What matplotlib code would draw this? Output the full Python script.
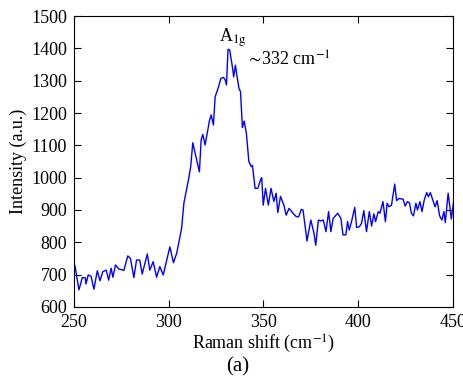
import matplotlib
matplotlib.use('Agg')
import matplotlib.pyplot as plt

# Raman spectrum, values
shift = [250.5, 252.6, 254.4, 256.0, 256.3, 257.5, 259.0, 260.5, 262.3, 263.7,
         265.2, 267.0, 268.3, 269.6, 270.5, 271.9, 273.7, 275.4, 276.3, 278.4,
         279.8, 281.6, 283.0, 284.7, 286.0, 288.7, 290.0, 291.8, 293.6, 295.3,
         297.1, 300.6, 302.5, 304.2, 306.8, 308.0, 310.4, 311.6, 312.7, 314.4,
         316.2, 317.1, 318.0, 319.2, 321.5, 322.4, 323.6, 324.5, 326.3, 327.5,
         328.9, 329.7, 330.5, 331.3, 332.2, 333.6, 334.3, 335.2, 336.1, 337.1,
         337.9, 338.9, 339.8, 341.0, 342.3, 343.6, 344.2, 345.6, 347.0, 348.6,
         349.1, 349.9, 351.1, 352.6, 354.0, 355.5, 356.7, 357.6, 359.0, 360.8,
         362.0, 363.5, 365.6, 367.4, 368.6, 370.0, 370.9, 373.0, 375.0, 376.7,
         377.6, 379.0, 380.2, 381.6, 383.0, 384.4, 385.6, 386.8, 389.2,
         390.9, 392.0, 393.5, 394.4, 395.3, 396.5, 398.2, 399.2, 400.6, 401.8,
         403.0, 404.4, 405.9, 407.1, 408.3, 409.2, 410.6, 411.5, 413.1, 414.4,
         415.3, 416.3, 417.6, 419.3, 420.3, 421.6, 422.8, 423.7, 424.8, 426.0,
         427.1, 428.1, 429.2, 430.5, 431.3, 432.6, 433.7, 434.9, 436.2, 437.1,
         438.1, 439.4, 440.6, 441.7, 443.0, 444.2, 445.3, 446.0, 447.5, 449.2,
         450.6]
intensity = [728, 653, 691, 690, 671, 699, 695, 655, 712, 681,
             709, 714, 683, 720, 692, 730, 717, 715, 713, 758,
             750, 691, 745, 745, 702, 764, 714, 740, 692, 725,
             699, 786, 737, 766, 843, 921, 993, 1034, 1108, 1065,
             1018, 1116, 1134, 1101, 1176, 1194, 1163, 1250, 1281, 1307,
             1310, 1304, 1287, 1397, 1395, 1343, 1312, 1348, 1312, 1276,
             1266, 1155, 1175, 1137, 1050, 1034, 1038, 967, 967, 995,
             1000, 915, 967, 915, 967, 926, 952, 892, 942, 915,
             884, 905, 890, 879, 879, 902, 900, 804, 869, 828,
             791, 869, 866, 869, 833, 895, 833, 874, 890,
             874, 823, 823, 864, 838, 864, 908, 846, 848, 859,
             898, 833, 895, 850, 888, 864, 895, 890, 926, 864,
             921, 910, 915, 980, 929, 936, 934, 934, 912, 926,
             922, 890, 882, 921, 900, 926, 895, 931, 954, 941,
             954, 931, 910, 929, 882, 869, 895, 861, 952, 872,
             936]

xticks = [250, 300, 350, 400, 450]
yticks = [600, 700, 800, 900, 1000, 1100, 1200, 1300, 1400, 1500]

plt.rcParams['font.family'] = ['Liberation Serif', 'DejaVu Serif']
plt.rcParams['mathtext.fontset'] = 'stix'
plt.rcParams['font.size'] = 13

fig = plt.figure(figsize=(4.64, 3.86), dpi=100)
ax = fig.add_axes([0.1595, 0.2047, 0.8165, 0.7538])

ax.plot(shift, intensity, color='#0000ff', linewidth=1.0)

ax.set_xlim(250, 450)
ax.set_ylim(600, 1500)
ax.set_xticks(xticks)
ax.set_yticks(yticks)
ax.tick_params(direction='in', top=True, right=True, length=5, width=0.8,
               pad=5)
for s in ax.spines.values():
    s.set_linewidth(0.8)

ax.set_xlabel('Raman shift (cm$^{-1}$)', labelpad=1)
ax.set_ylabel('Intensity (a.u.)', labelpad=3)

ax.text(326.5, 1432, 'A$_{\\mathrm{1g}}$', fontsize=13, va='center', ha='left')
ax.text(341.0, 1364, '$\\sim\\!$332 cm$^{-1}$', fontsize=13, va='center', ha='left')

fig.text(0.513, 0.05, '(a)', ha='center', va='center', fontsize=15)

fig.savefig('out.png', dpi=100)
